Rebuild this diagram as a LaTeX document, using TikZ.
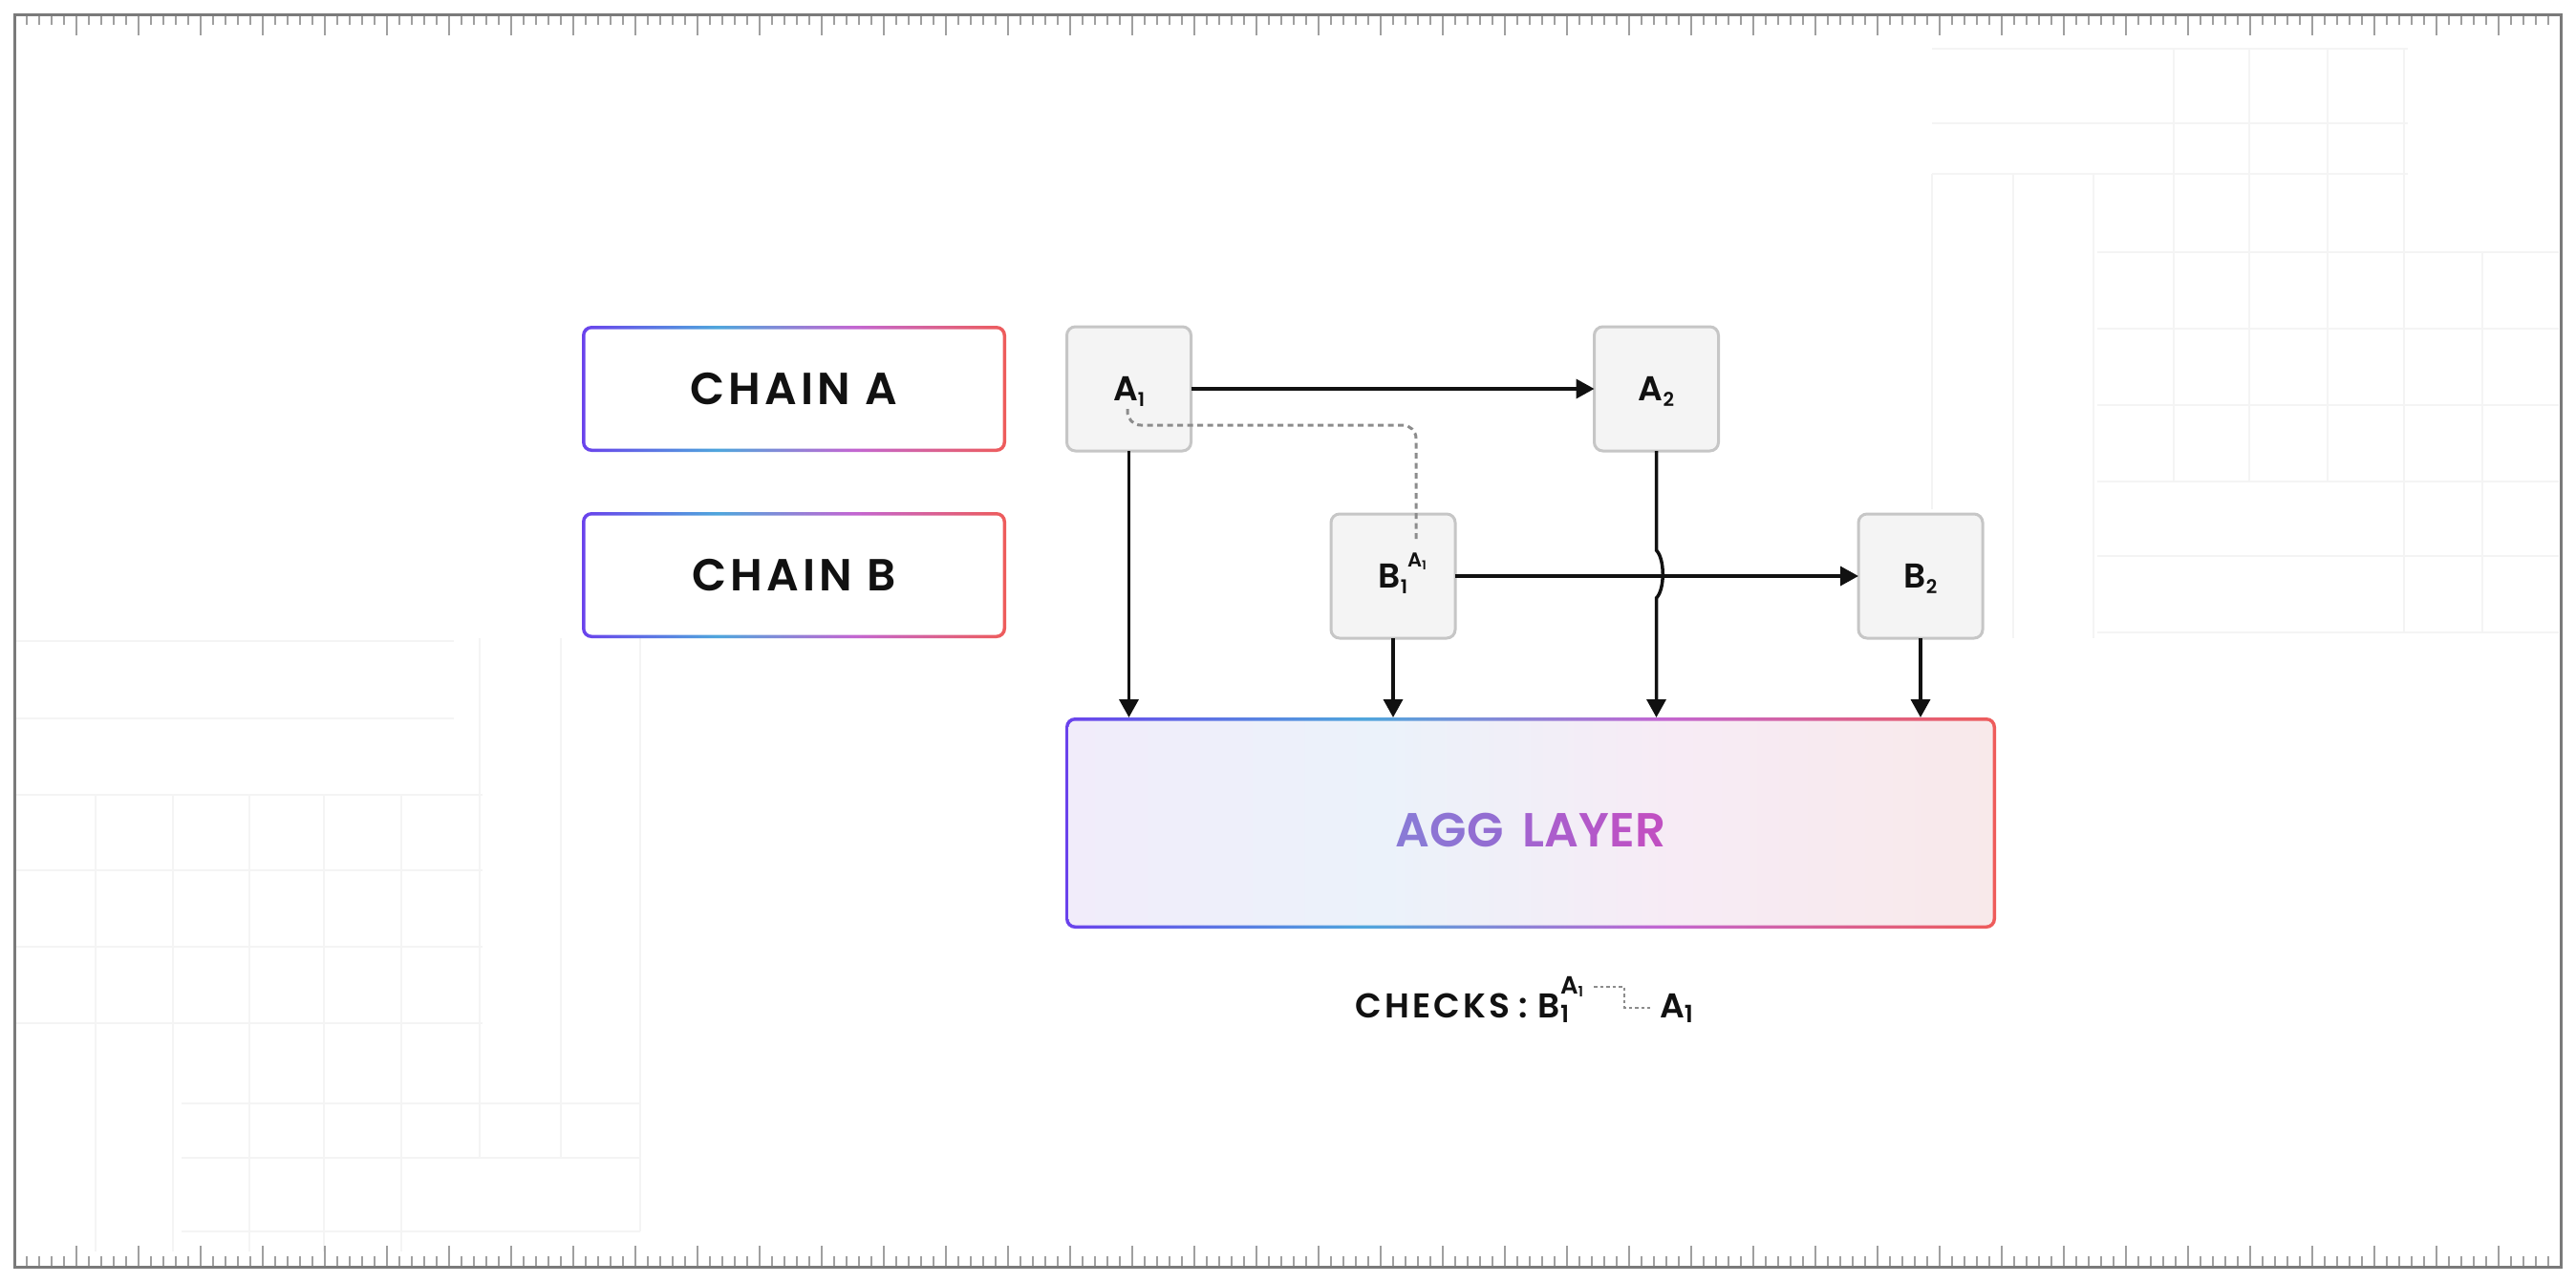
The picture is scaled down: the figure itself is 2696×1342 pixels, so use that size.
\documentclass[tikz,border=0pt]{standalone}
\usepackage{fontspec}
\setmainfont{Poppins}[BoldFont={Poppins SemiBold}]
\newfontfamily\spaced{Poppins}[LetterSpace=9, BoldFont={Poppins SemiBold}]
\newfontfamily\widespaced{Poppins}[LetterSpace=17, BoldFont={Poppins SemiBold}]
\usetikzlibrary{arrows.meta}
\definecolor{gp}{HTML}{6A42EC}
\definecolor{gb}{HTML}{4FA6DC}
\definecolor{gm}{HTML}{C266D2}
\definecolor{gr}{HTML}{EE5C5A}
\definecolor{fa}{HTML}{F1ECFA}
\definecolor{fb}{HTML}{EBF2FA}
\definecolor{fc}{HTML}{F7EBF5}
\definecolor{fd}{HTML}{F8E9EA}
\definecolor{boxfill}{HTML}{F4F4F4}
\definecolor{boxline}{HTML}{C6C6C6}
\definecolor{ink}{HTML}{111111}
\definecolor{framec}{HTML}{7A7A7A}
\definecolor{tickc}{HTML}{A0A0A0}
\definecolor{gridc}{HTML}{F4F4F4}
\definecolor{dotc}{HTML}{8C8C8C}
\definecolor{ta}{HTML}{8A7AD6}
\definecolor{tb}{HTML}{8E74D4}
\definecolor{tc}{HTML}{936DD2}
\definecolor{td}{HTML}{A463CF}
\definecolor{te}{HTML}{AC5DCC}
\definecolor{tf}{HTML}{B358C9}
\definecolor{tg}{HTML}{BA54C6}
\definecolor{th}{HTML}{C050C2}
\pgfdeclarehorizontalshading{brd}{100bp}{color(0bp)=(gp); color(25bp)=(gp); color(41bp)=(gb); color(57bp)=(gm); color(75bp)=(gr); color(100bp)=(gr)}
\pgfdeclarehorizontalshading{aggf}{100bp}{color(0bp)=(fa); color(25bp)=(fa); color(42bp)=(fb); color(58bp)=(fc); color(75bp)=(fd); color(100bp)=(fd)}
\newcommand\lsub[2]{\raisebox{-#1}{\fontsize{#2}{#2}\selectfont 1}}
\begin{document}
\begin{tikzpicture}[x=1pt,y=-1pt,
  chainbox/.style={rectangle, rounded corners=10pt, fill=white, inner sep=0pt, outer sep=0pt,
    minimum width=444pt, minimum height=132pt, text height=33pt, text depth=0pt, text=ink,
    font=\spaced\bfseries\fontsize{47}{47}\selectfont,
    path picture={
      \shade[shading=brd] (path picture bounding box.north west) rectangle (path picture bounding box.south east);
      \fill[white, rounded corners=7pt] ([shift={(3.5pt,-3.5pt)}]path picture bounding box.north west) rectangle ([shift={(-3.5pt,3.5pt)}]path picture bounding box.south east);}},
  aggbox/.style={rectangle, rounded corners=10pt, fill=white, inner sep=0pt, outer sep=0pt,
    minimum width=974pt, minimum height=221pt, text height=49pt, text depth=0pt,
    font=\widespaced\bfseries\fontsize{50}{50}\selectfont,
    path picture={
      \shade[shading=brd] (path picture bounding box.north west) rectangle (path picture bounding box.south east);
      \shade[shading=aggf, rounded corners=7pt] ([shift={(3.5pt,-3.5pt)}]path picture bounding box.north west) rectangle ([shift={(-3.5pt,3.5pt)}]path picture bounding box.south east);}},
  graybox/.style={rectangle, rounded corners=9pt, draw=boxline, line width=3pt, fill=boxfill,
    minimum width=130pt, minimum height=130pt, inner sep=0pt, outer sep=0pt,
    text height=25pt, text depth=0pt, text=ink, font=\bfseries\fontsize{36}{36}\selectfont},
  arr/.style={line width=3.5pt, draw=ink, -{Triangle[length=19pt,width=20pt]}},
  dotlink/.style={line width=3pt, draw=dotc, dash pattern=on 6pt off 4.5pt},
  dotsmall/.style={line width=2.5pt, draw=dotc, dash pattern=on 3.5pt off 3pt},
  tick/.style={line width=2pt, draw=tickc},
  gridline/.style={line width=1.3pt, draw=gridc}]
\useasboundingbox (0,0) rectangle (2696,1342);
\fill[white] (0,0) rectangle (2696,1342);
% faint background grids
\foreach \yy in {51,129,182} \draw[gridline] (2022,\yy) -- (2520,\yy);
\foreach \yy in {264,344,424,504,582,662} \draw[gridline] (2195,\yy) -- (2678,\yy);
\foreach \xx in {2022} \draw[gridline] (\xx,182) -- (\xx,533);
\foreach \xx in {2107,2191} \draw[gridline] (\xx,182) -- (\xx,668);
\foreach \xx in {2275,2354,2436} \draw[gridline] (\xx,51) -- (\xx,504);
\draw[gridline] (2516,51) -- (2516,662);
\draw[gridline] (2598,264) -- (2598,662);
\foreach \yy in {671,752} \draw[gridline] (17,\yy) -- (475,\yy);
\foreach \yy in {832,911,991,1071} \draw[gridline] (17,\yy) -- (505,\yy);
\foreach \yy in {1155,1212,1289} \draw[gridline] (190,\yy) -- (670,\yy);
\foreach \xx in {100,181,261,339,420} \draw[gridline] (\xx,832) -- (\xx,1310);
\foreach \xx in {502,587} \draw[gridline] (\xx,668) -- (\xx,1212);
\draw[gridline] (670,668) -- (670,1289);
% ruler frame
\foreach \i in {0,...,203}{
  \pgfmathtruncatemacro\tx{28+13*\i}
  \pgfmathtruncatemacro\mj{mod(\i+1,5)}
  \ifnum\mj=0 \def\tl{22}\else\def\tl{11}\fi
  \draw[tick] (\tx,15) -- ++(0,\tl);
  \draw[tick] (\tx,1326) -- ++(0,-\tl);
}
\draw[framec, line width=3pt] (15,15) rectangle (2680,1326);
% chain labels
\node[chainbox] (ca) at (831,407) {CHAIN A};
\node[chainbox] (cb) at (831,602) {CHAIN B};
% blocks
\node[graybox] (A1) at (1181.5,407) {A\lsub{6pt}{20}};
\node[graybox] (A2) at (1733.5,407) {A\raisebox{-6pt}{\fontsize{20}{20}\selectfont 2}};
\node[graybox] (B1) at (1458,603) {B\lsub{6pt}{20}\rlap{\raisebox{22pt}{\fontsize{21}{21}\selectfont A\raisebox{-3pt}{\fontsize{13}{13}\selectfont 1}}}};
\node[graybox] (B2) at (2010,603) {B\raisebox{-6pt}{\fontsize{20}{20}\selectfont 2}};
% agg layer
\node[aggbox] (agg) at (1602,861.5) {\color{ta}A\color{tb}G\color{tc}G \color{td}L\color{te}A\color{tf}Y\color{tg}E\color{th}R};
% connectors
\draw[arr] (A1.east) -- (A2.west);
\draw[arr] (B1.east) -- (B2.west);
\draw[arr] (A1.south) -- (A1.south |- agg.north);
\draw[arr] (B1.south) -- (B1.south |- agg.north);
\draw[arr] (B2.south) -- (B2.south |- agg.north);
\draw[arr] (A2.south) -- ([yshift=-104pt]A2.south) .. controls +(9,9) and +(9,-9) .. ([yshift=-154pt]A2.south) -- (A2.south |- agg.north);
% dotted dependency
\coordinate (d0) at (1180,428);
\coordinate (d1) at (1482,565);
\draw[dotlink, rounded corners=14pt] (d0) -- (1180,445) -- (1482,445) -- (d1);
% checks caption
\node[anchor=base west, inner sep=0pt, text=ink, font=\spaced\bfseries\fontsize{36}{36}\selectfont] (chk) at (1418,1065)
  {CHECKS\hspace{9pt}:\hspace{11pt}B\rlap{\raisebox{25pt}{\fontsize{26}{26}\selectfont A\raisebox{-3pt}{\fontsize{15}{15}\selectfont 1}}}\lsub{5pt}{25}};
\node[anchor=base west, inner sep=0pt, text=ink, font=\spaced\bfseries\fontsize{36}{36}\selectfont] (chka) at (1737,1065)
  {A\lsub{5pt}{25}};
\coordinate (c0) at (1668,1033);
\coordinate (c1) at (1727,1055);
\draw[dotsmall] (c0) -- (1700,1033) -- (1700,1055) -- (c1);
\end{tikzpicture}
\end{document}
